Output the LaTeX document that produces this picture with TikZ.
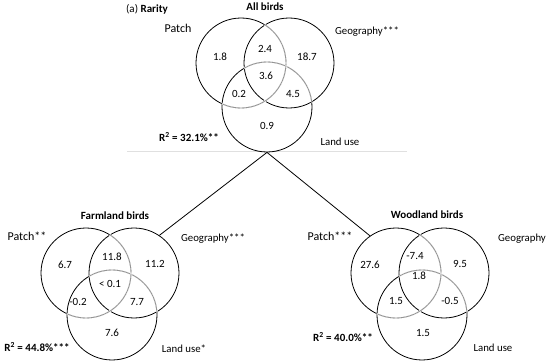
\documentclass[tikz,border=0pt]{standalone}
\usepackage{fontspec}
\setmainfont{Carlito}
\begin{document}
\begin{tikzpicture}[x=1pt,y=-1pt,
  vcirc/.style={circle,draw=black,line width=0.8pt,minimum size=90pt,inner sep=0pt},
  graylap/.style={draw=black!42,line width=0.85pt,preaction={draw=white,line width=1.6pt}},
  lbl/.style={inner sep=0pt,font=\fontsize{10.8}{12}\selectfont},
  bigl/.style={inner sep=0pt,font=\fontsize{12}{14}\selectfont},
  ttl/.style={inner sep=0pt,font=\fontsize{11}{13}\selectfont\bfseries},
  num/.style={inner sep=0pt,font=\fontsize{11}{13}\selectfont},
  conn/.style={draw=black,line width=0.8pt}]
\useasboundingbox (0,0) rectangle (550,361);
% separator line
\coordinate (sepL) at (127,151);
\coordinate (sepR) at (407,151);
\draw[black!12,line width=0.6pt] (sepL) -- (sepR);

% ---------- top: all birds ----------
\node[vcirc] (tp) at (241,63) {};
\node[vcirc] (tg) at (289,63) {};
\node[vcirc] (tl) at (267,107) {};
\begin{scope}\clip (tg.center) circle (45.4);
  \draw[graylap] (tp.center) circle (45);
  \draw[graylap] (tl.center) circle (45);
\end{scope}
\begin{scope}\clip (tl.center) circle (45.4);
  \draw[graylap] (tp.center) circle (45);
\end{scope}
\node[inner sep=0pt,font=\fontsize{11}{13}\selectfont] (ttitle) at (147,9) {(a) \textbf{Rarity}};
\node[ttl] (tall) at (265,7) {All birds};
\node[bigl] (tpl) at (178,28) {Patch};
\node[lbl] (tgl) at (367,32) {Geography***};
\node[lbl] (tll) at (340,142) {Land use};
\node[ttl] (tr2) at (189,137) {R\textsuperscript{2} = 32.1\%**};
\node[num] (t1) at (220,57) {1.8};
\node[num] (t2) at (265,49) {2.4};
\node[num] (t3) at (307,57) {18.7};
\node[num] (t4) at (266,76) {3.6};
\node[num] (t5) at (239,94) {0.2};
\node[num] (t6) at (293,94) {4.5};
\node[num] (t7) at (267,126) {0.9};

% ---------- bottom left: farmland ----------
\node[vcirc] (fp) at (86,273) {};
\node[vcirc] (fg) at (134,273) {};
\node[vcirc] (fl) at (112,315) {};
\begin{scope}\clip (fg.center) circle (45.4);
  \draw[graylap] (fp.center) circle (45);
  \draw[graylap] (fl.center) circle (45);
\end{scope}
\begin{scope}\clip (fl.center) circle (45.4);
  \draw[graylap] (fp.center) circle (45);
\end{scope}
\node[ttl] (fti) at (115,216) {Farmland birds};
\node[bigl] (fpl) at (27,236) {Patch**};
\node[lbl] (fgl) at (213,239) {Geography***};
\node[lbl] (fll) at (184,349) {Land use*};
\node[ttl] (fr2) at (37,347) {R\textsuperscript{2} = 44.8\%***};
\node[num] (f1) at (65,265) {6.7};
\node[num] (f2) at (112,257) {11.8};
\node[num] (f3) at (155,264) {11.2};
\node[num] (f4) at (110,284) {< 0.1};
\node[num] (f5) at (78,302) {-0.2};
\node[num] (f6) at (137,302) {7.7};
\node[num] (f7) at (112,333) {7.6};

% ---------- bottom right: woodland ----------
\node[vcirc] (wp) at (396,273) {};
\node[vcirc] (wg) at (444,273) {};
\node[vcirc] (wl) at (422,315) {};
\begin{scope}\clip (wg.center) circle (45.4);
  \draw[graylap] (wp.center) circle (45);
  \draw[graylap] (wl.center) circle (45);
\end{scope}
\begin{scope}\clip (wl.center) circle (45.4);
  \draw[graylap] (wp.center) circle (45);
\end{scope}
\node[ttl] (wti) at (427,215) {Woodland birds};
\node[bigl] (wpl) at (330,236) {Patch***};
\node[lbl] (wgl) at (522,239) {Geography};
\node[lbl] (wll) at (493,348) {Land use};
\node[ttl] (wr2) at (343,337) {R\textsuperscript{2} = 40.0\%**};
\node[num] (w1) at (370,265) {27.6};
\node[num] (w2) at (415,256) {-7.4};
\node[num] (w3) at (460,264) {9.5};
\node[num] (w4) at (419,276) {1.8};
\node[num] (w5) at (396,301) {1.5};
\node[num] (w6) at (450,301) {-0.5};
\node[num] (w7) at (423,333) {1.5};

% ---------- connectors ----------
\draw[conn] (tl.south) -- (fg.56);
\draw[conn] (tl.south) -- (wp.125);
\end{tikzpicture}
\end{document}
